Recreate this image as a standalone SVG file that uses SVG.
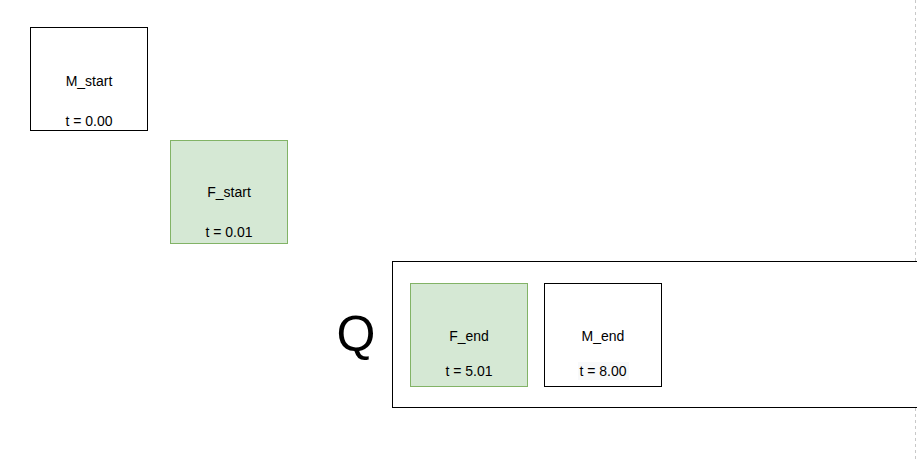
<svg xmlns="http://www.w3.org/2000/svg" width="917" height="461" viewBox="0 0 917 461">
<style>
text{font-family:"Liberation Sans",Arial,sans-serif;font-size:14px;fill:#000;text-anchor:middle}
.w{fill:#fff;stroke:#000;stroke-width:1}
.g{fill:#d5e8d4;stroke:#82b366;stroke-width:1}
</style>
<rect width="917" height="461" fill="#fff"/>
<line x1="915.5" y1="0" x2="915.5" y2="461" stroke="#c8c8c8" stroke-width="1" stroke-dasharray="3 3"/>
<g id="Q">
<rect class="w" x="392.5" y="261.5" width="540" height="146"/>
<text x="356" y="351" style="font-size:50px">Q</text>
</g>
<g id="M_start">
<rect class="w" x="30.5" y="27.5" width="117" height="103"/>
<text x="89" y="86">M_start</text>
<text x="89" y="126">t = 0.00</text>
</g>
<g id="F_start">
<rect class="g" x="170.5" y="140.5" width="117" height="103"/>
<text x="229" y="197">F_start</text>
<text x="229" y="237">t = 0.01</text>
</g>
<g id="F_end">
<rect class="g" x="410.5" y="283.5" width="117" height="103"/>
<text x="469" y="341">F_end</text>
<text x="469" y="376">t = 5.01</text>
</g>
<g id="M_end">
<rect class="w" x="544.5" y="283.5" width="117" height="103"/>
<text x="603" y="341">M_end</text>
<rect x="578" y="362" width="51" height="18" fill="#f8f9fa"/>
<text x="603" y="376">t = 8.00</text>
</g>
<g id="connectors"></g>
</svg>
